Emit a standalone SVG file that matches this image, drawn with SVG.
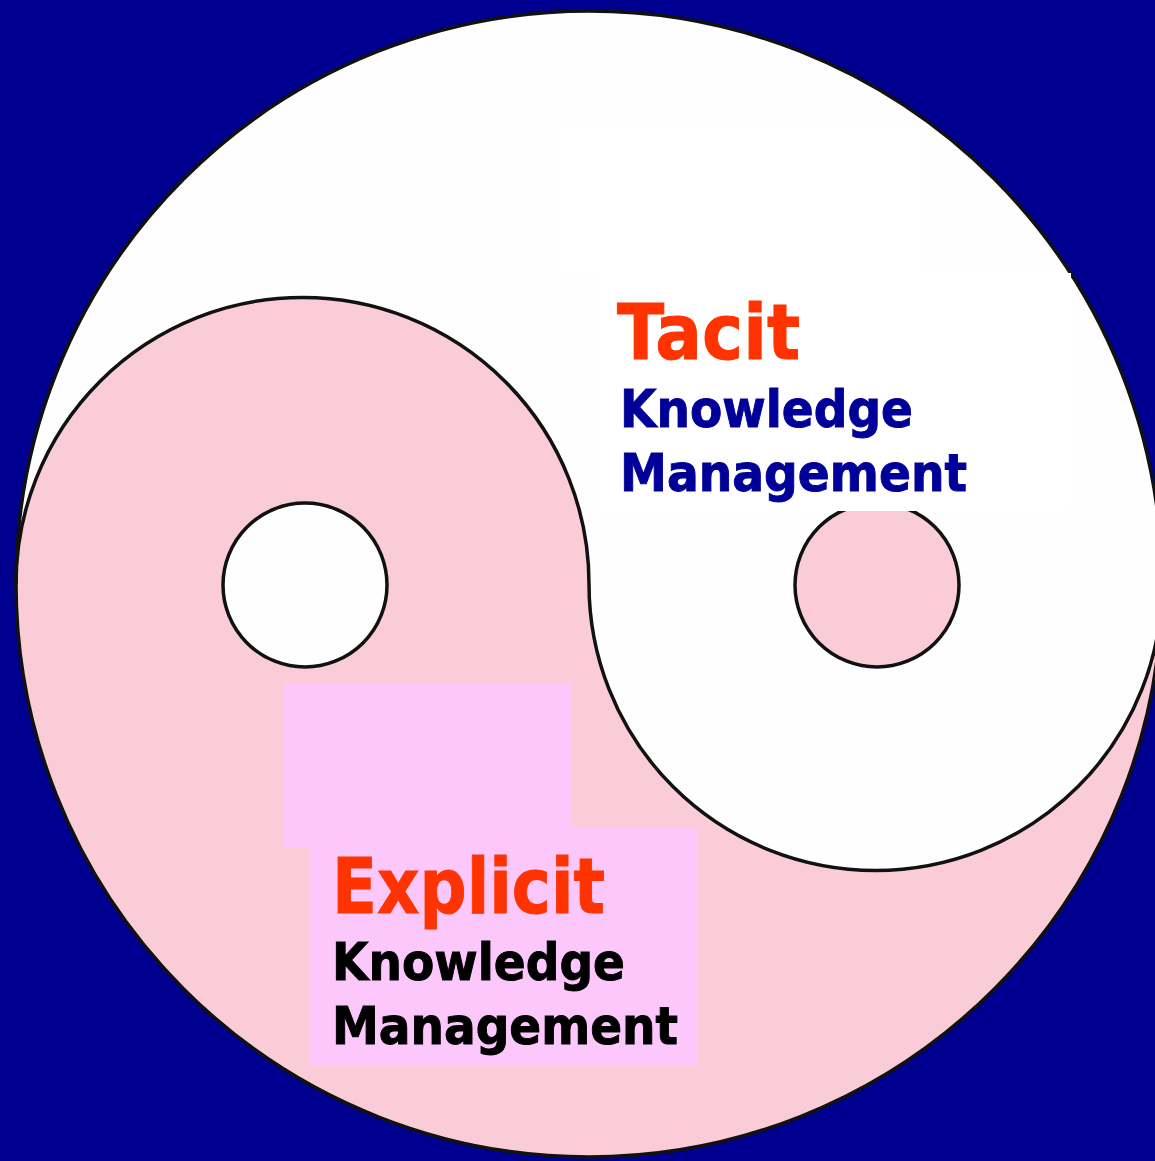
<svg xmlns="http://www.w3.org/2000/svg" width="1155" height="1161" viewBox="0 0 1155 1161">
<style>
.ol{stroke:#111;stroke-width:3.5;}
.t{font-family:"DejaVu Sans","Liberation Sans",sans-serif;font-weight:bold;stroke-width:1;}
.red{fill:#FF3300;stroke:#FF3300;font-size:77px;}
.kn{font-size:52px;}
.navy{fill:#000099;stroke:#000099;}
.blk{fill:#000000;stroke:#000000;}
</style>
<rect width="1155" height="1161" fill="#000090"/>
<g id="yinyang">
<circle cx="589" cy="584" r="573" fill="#FEFEFE"/>
<path d="M16,584 A573,573 0 0 0 1162,584 A286.5,286.5 0 0 1 589,584 A286.5,286.5 0 0 0 16,584 Z" fill="#FACCD8"/>
<circle class="ol" cx="589" cy="584" r="573" fill="none"/>
<path class="ol" d="M16,584 A286.5,286.5 0 0 1 589,584 A286.5,286.5 0 0 0 1162,584" fill="none"/>
<circle id="white-dot" class="ol" cx="305" cy="585" r="82" fill="#FEFEFE"/>
<circle id="pink-dot" class="ol" cx="877" cy="585" r="82" fill="#FACCD8"/>
</g>
<g id="tacit">
<rect x="556" y="125" width="364" height="149" fill="#FFFFFF"/>
<rect x="596" y="273" width="475" height="238" fill="#FFFFFF"/>
<text class="t red" x="617" y="359" textLength="183" lengthAdjust="spacingAndGlyphs" font-size="75">Tacit</text>
<text class="t kn navy" x="620" y="427" textLength="293" lengthAdjust="spacingAndGlyphs">Knowledge</text>
<text class="t kn navy" x="620" y="491" textLength="347" lengthAdjust="spacingAndGlyphs">Management</text>
</g>
<g id="explicit">
<rect x="283" y="683" width="289" height="165" fill="#FCC8FC"/>
<rect x="309" y="828" width="389" height="238" fill="#FCC8FC"/>
<text class="t red" x="332" y="913" textLength="273" lengthAdjust="spacingAndGlyphs">Explicit</text>
<text class="t kn blk" x="332" y="980" textLength="293" lengthAdjust="spacingAndGlyphs">Knowledge</text>
<text class="t kn blk" x="332" y="1044" textLength="346" lengthAdjust="spacingAndGlyphs">Management</text>
</g>
</svg>
